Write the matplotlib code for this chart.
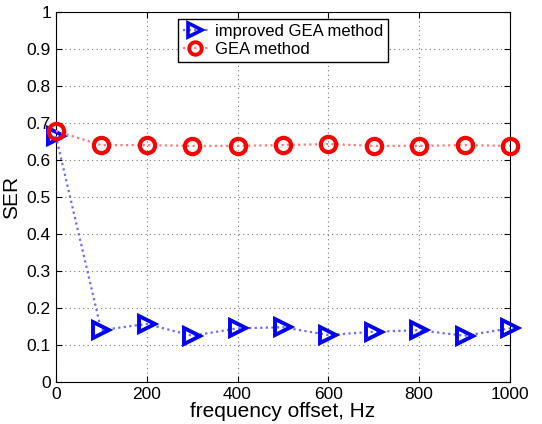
import matplotlib
matplotlib.use("Agg")
import matplotlib.pyplot as plt
from matplotlib.lines import Line2D

plt.rcParams['font.family'] = ['Liberation Sans', 'DejaVu Sans']

freq = [0, 100, 200, 300, 400, 500, 600, 700, 800, 900, 1000]
improved = [0.665, 0.14, 0.157, 0.125, 0.145, 0.148, 0.127, 0.136, 0.14, 0.125, 0.145]
gea = [0.678, 0.64, 0.64, 0.638, 0.638, 0.64, 0.643, 0.638, 0.638, 0.64, 0.638]
xticks = [0, 200, 400, 600, 800, 1000]
yticks = [0, 0.1, 0.2, 0.3, 0.4, 0.5, 0.6, 0.7, 0.8, 0.9, 1]
ytick_labels = ['0', '0.1', '0.2', '0.3', '0.4', '0.5', '0.6', '0.7', '0.8', '0.9', '1']

fig = plt.figure(figsize=(5.42, 4.24), dpi=100)
ax = fig.add_axes([0.103, 0.099, 0.838, 0.873])

ax.plot(freq, improved, color='#6a6aff', linestyle=(0, (1, 1.5)), linewidth=1.6,
        zorder=3, clip_on=False)
ax.plot(freq, improved, linestyle='none', marker='>',
        markersize=12, markerfacecolor='none', markeredgecolor='blue',
        markeredgewidth=2.8, clip_on=False, zorder=4)
ax.plot(freq, gea, color='#ff7a7a', linestyle=(0, (1, 1.5)), linewidth=1.6,
        zorder=5, clip_on=False)
ax.plot(freq, gea, linestyle='none', marker='o',
        markersize=11, markerfacecolor='none', markeredgecolor='red',
        markeredgewidth=3.0, clip_on=False, zorder=6)

ax.set_xlim(0, 1000)
ax.set_ylim(0, 1)
ax.set_xticks(xticks)
ax.set_yticks(yticks)
ax.set_yticklabels(ytick_labels)
ax.tick_params(direction='in', top=True, right=True, labelsize=12.5, length=4)
ax.grid(True, linestyle=(0, (1, 3)), color='#777777', linewidth=0.8)
ax.set_xlabel('frequency offset, Hz', fontsize=15, labelpad=0)
ax.set_ylabel('SER', fontsize=15, labelpad=4)

handles = [
    Line2D([], [], color='#6a6aff', linestyle=(0, (1, 1.5)), linewidth=1.6, marker='>',
           markersize=10, markerfacecolor='none', markeredgecolor='blue', markeredgewidth=2.6),
    Line2D([], [], color='#ff7a7a', linestyle=(0, (1, 1.5)), linewidth=1.6, marker='o',
           markersize=9, markerfacecolor='none', markeredgecolor='red', markeredgewidth=2.8),
]
leg = ax.legend(handles, ['improved GEA method', 'GEA method'], loc='upper center',
                bbox_to_anchor=(0.5, 1.0), fontsize=12,
                fancybox=False, framealpha=1, edgecolor='black',
                handlelength=1.5, handletextpad=0.4, borderpad=0.3,
                labelspacing=0.2, borderaxespad=0.4)
leg.get_frame().set_linewidth(1.0)

fig.savefig('out.png', dpi=100)
